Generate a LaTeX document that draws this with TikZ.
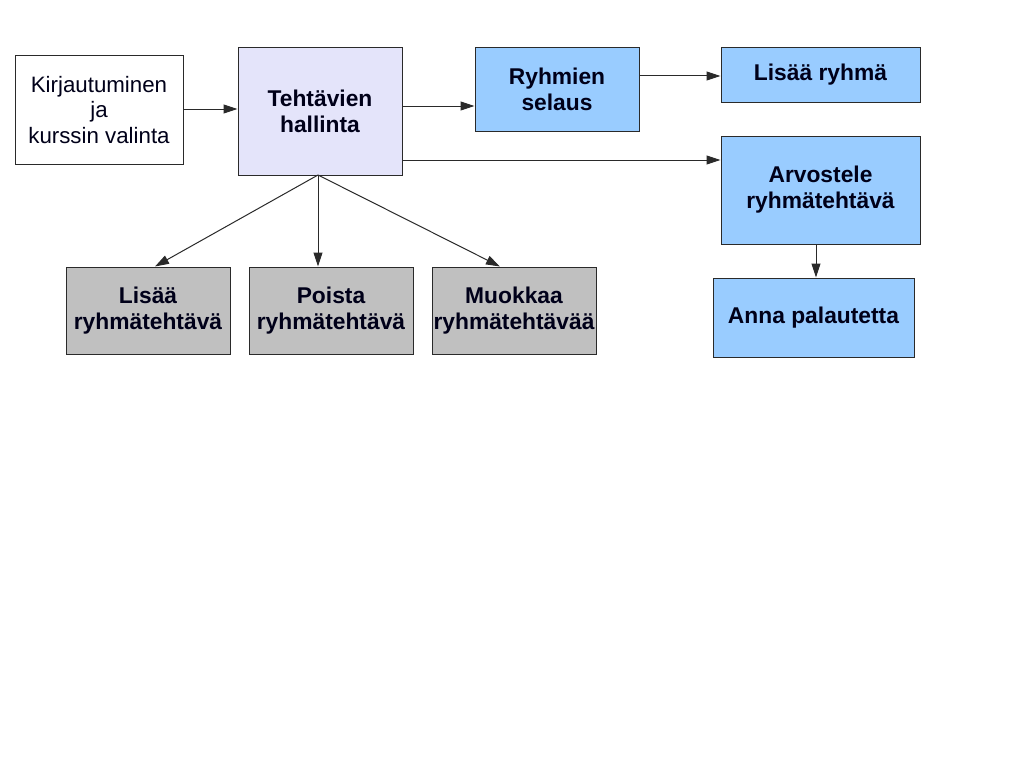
\documentclass[tikz,border=0pt]{standalone}
\usepackage{fontspec}
\setmainfont{Liberation Sans}
\usetikzlibrary{arrows.meta}
\definecolor{lav}{HTML}{E4E4FA}
\definecolor{skyb}{HTML}{99CCFF}
\definecolor{grayb}{HTML}{C0C0C0}
\definecolor{edge}{HTML}{2A2A2A}
\tikzset{
  box/.style={draw=edge, line width=1pt, inner sep=0pt, align=center,
    font=\fontsize{22.8}{26}\selectfont\bfseries, text=black!90!blue},
  conn/.style={draw=edge, line width=1pt, -{Triangle[length=14pt,width=9pt]}}
}
\begin{document}
\begin{tikzpicture}[x=1pt,y=-1pt]
\useasboundingbox (0,0) rectangle (1023,768);
\fill[white] (0,0) rectangle (1023,768);
\node[box, fill=white, font=\fontsize{22.3}{25.5}\selectfont, minimum width=168pt, minimum height=108pt] (login) at (99,110) {Kirjautuminen\\ja\\kurssin valinta};
\node[box, fill=lav, minimum width=164pt, minimum height=127pt] (teht) at (320,111.5) {Tehtävien\\hallinta};
\node[box, fill=skyb, minimum width=164pt, minimum height=83pt] (selaus) at (557,89.5) {Ryhmien\\selaus};
\node[box, fill=skyb, minimum width=199pt, minimum height=54pt] (lisryh) at (820.5,75) {Lisää ryhmä};
\node[box, fill=skyb, minimum width=199pt, minimum height=108pt] (arvo) at (820.5,190) {Arvostele\\ryhmätehtävä};
\node[box, fill=skyb, minimum width=201pt, minimum height=79pt] (anna) at (813.5,317.5) {Anna palautetta};
\node[box, fill=grayb, minimum width=164pt, minimum height=87pt] (lis) at (148,310.5) {Lisää\\ryhmätehtävä};
\node[box, fill=grayb, minimum width=164pt, minimum height=87pt] (poi) at (331,310.5) {Poista\\ryhmätehtävä};
\node[box, fill=grayb, minimum width=164pt, minimum height=87pt] (muo) at (514,310.5) {Muokkaa\\ryhmätehtävää};
\draw[conn] (login.east |- 0,109) -- (teht.west |- 0,109);
\draw[conn] (teht.east |- 0,106) -- (selaus.west |- 0,106);
\draw[conn] (selaus.east |- 0,76) -- (lisryh.west |- 0,76);
\draw[conn] (teht.east |- 0,160) -- (arvo.west |- 0,160);
\coordinate (tb) at (318,175);
\draw[conn] (tb) -- (lis.north -| 155,0);
\draw[conn] (tb) -- (poi.north -| 318,0);
\draw[conn] (tb) -- (muo.north -| 500,0);
\draw[conn] (arvo.south -| 816,0) -- (anna.north -| 816,0);
\end{tikzpicture}
\end{document}
